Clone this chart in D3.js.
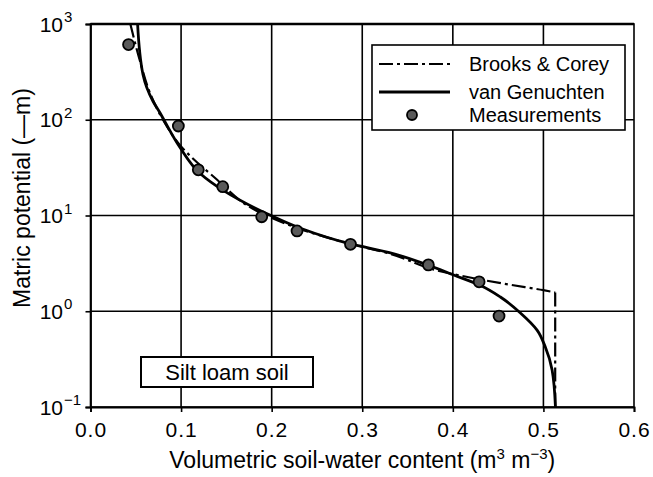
<!DOCTYPE html>
<html><head><meta charset="utf-8">
<script src="https://cdn.jsdelivr.net/npm/d3@7"></script>
<style>
body{margin:0;background:#fff}
svg{display:block}
text{font-family:"Liberation Sans",Arial,Helvetica,sans-serif;fill:#000}
</style>
</head><body>
<svg id="c" width="653" height="477"></svg>
<script>
// ---- data ----
const xTicks = [0.0, 0.1, 0.2, 0.3, 0.4, 0.5, 0.6];
const xTickLabels = ["0.0", "0.1", "0.2", "0.3", "0.4", "0.5", "0.6"];
const yTicks = [0.1, 1, 10, 100, 1000];
const yTickExponents = ["−1", "0", "1", "2", "3"];

const measTheta = [0.042, 0.097, 0.119, 0.146, 0.189, 0.228, 0.287, 0.373, 0.429, 0.451];
const measPsi   = [610, 86, 30, 20, 9.7, 6.9, 5.0, 3.05, 2.03, 0.89];

const vgTheta = [0.052, 0.058, 0.069, 0.077, 0.082, 0.099, 0.121, 0.147, 0.198, 0.231, 0.287, 0.330, 0.372, 0.401, 0.430, 0.4525, 0.4746, 0.493, 0.502, 0.5096, 0.5133];
const vgPsi   = [1000, 295, 156, 117, 96, 51, 27.5, 18.2, 10.1, 7.4, 5.05, 4.1, 3.05, 2.39, 1.87, 1.41, 0.96, 0.635, 0.425, 0.243, 0.1];

const bcTheta = [0.044, 0.0547, 0.0657, 0.080, 0.099, 0.136, 0.190, 0.230, 0.287, 0.330, 0.386, 0.430, 0.465, 0.500, 0.513, 0.513];
const bcPsi   = [1000, 408, 190, 100, 54, 25.4, 10.4, 7.3, 5.05, 4.0, 2.62, 2.15, 1.88, 1.66, 1.57, 0.1];

const legendLabels = ["Brooks & Corey", "van Genuchten", "Measurements"];

// ---- chart ----
const svg = d3.select("#c");
const L = 90.5, R = 634, T = 24, B = 407;
const x = d3.scaleLinear().domain([0, 0.6]).range([L, R]);
const y = d3.scaleLog().domain([0.1, 1000]).range([B, T]);

// grid
const g = svg.append("g");
g.selectAll("line.vx").data(xTicks.slice(1, -1)).enter().append("line")
  .attr("x1", d => x(d)).attr("x2", d => x(d)).attr("y1", T).attr("y2", B)
  .attr("stroke", "#000").attr("stroke-width", 1.6);
g.selectAll("line.hy").data(yTicks.slice(1, -1)).enter().append("line")
  .attr("x1", L).attr("x2", R).attr("y1", d => y(d)).attr("y2", d => y(d))
  .attr("stroke", "#000").attr("stroke-width", 1.4);

// frame
svg.append("rect").attr("x", L).attr("y", T).attr("width", R - L).attr("height", B - T)
  .attr("fill", "none").attr("stroke", "#000").attr("stroke-width", 1.6);
svg.append("line").attr("x1", L).attr("x2", R).attr("y1", T).attr("y2", T)
  .attr("stroke", "#000").attr("stroke-width", 2.4);

// x axis
const xAxis = d3.axisBottom(x).tickValues(xTicks).tickFormat((d, i) => xTickLabels[i]).tickSize(5).tickPadding(10);
const xa = svg.append("g").attr("transform", `translate(0,${B})`).call(xAxis);
xa.select(".domain").attr("stroke", "#000").attr("stroke-width", 1.8);
xa.selectAll(".tick line").attr("stroke", "#000").attr("stroke-width", 1.6);
xa.selectAll(".tick text").attr("font-size", 21).attr("font-family", "Liberation Sans, Arial, sans-serif")
  .attr("letter-spacing", "1px").attr("fill", "#000");

// y axis
const yAxis = d3.axisLeft(y).tickValues(yTicks).tickFormat("").tickSize(5);
const ya = svg.append("g").attr("transform", `translate(${L},0)`).call(yAxis);
ya.select(".domain").attr("stroke", "#000").attr("stroke-width", 1.8);
ya.selectAll(".tick line").attr("stroke", "#000").attr("stroke-width", 1.6);
const ylab = svg.append("g");
yTicks.forEach((v, i) => {
  ylab.append("text").attr("x", 63).attr("y", y(v) + 7.5).attr("text-anchor", "end")
    .attr("font-size", 21).text("10");
  ylab.append("text").attr("x", 64).attr("y", y(v) - 2).attr("text-anchor", "start")
    .attr("font-size", 15).text(yTickExponents[i]);
});

// axis titles
const xt = svg.append("text").attr("x", (L + R) / 2).attr("y", 468).attr("text-anchor", "middle")
  .attr("font-size", 23);
xt.append("tspan").text("Volumetric soil-water content (m");
xt.append("tspan").attr("font-size", 15).attr("dy", -9).text("3");
xt.append("tspan").attr("dy", 9).text(" m");
xt.append("tspan").attr("font-size", 15).attr("dy", -9).text("−3");
xt.append("tspan").attr("dy", 9).text(")");

svg.append("text").attr("transform", "translate(30,198) rotate(-90)").attr("text-anchor", "middle")
  .attr("font-size", 23).text("Matric potential (—m)");

// curves
const vgData = vgTheta.map((t, i) => [t, vgPsi[i]]);
const bcData = bcTheta.map((t, i) => [t, bcPsi[i]]);
const line = d3.line().x(d => x(d[0])).y(d => y(d[1])).curve(d3.curveMonotoneY);
svg.append("clipPath").attr("id", "pc").append("rect")
  .attr("x", L).attr("y", T).attr("width", R - L).attr("height", B - T);
svg.append("path").datum(bcData.slice(0, -1)).attr("d", line).attr("clip-path", "url(#pc)")
  .attr("fill", "none").attr("stroke", "#000").attr("stroke-width", 2.2).attr("stroke-dasharray", "14,4,3,4");
svg.append("path").datum(bcData.slice(-2)).attr("d", d3.line().x(d => x(d[0])).y(d => y(d[1])))
  .attr("fill", "none").attr("stroke", "#000").attr("stroke-width", 2.2).attr("stroke-dasharray", "14,4,3,4");
svg.append("path").datum(vgData).attr("d", line).attr("clip-path", "url(#pc)")
  .attr("fill", "none").attr("stroke", "#000").attr("stroke-width", 2.8);

// measurements
svg.selectAll("circle.m").data(measTheta).enter().append("circle")
  .attr("cx", d => x(d)).attr("cy", (d, i) => y(measPsi[i])).attr("r", 5.5)
  .attr("fill", "#5a5a5a").attr("stroke", "#000").attr("stroke-width", 1.8);

// legend
const lg = svg.append("g");
lg.append("rect").attr("x", 372).attr("y", 45).attr("width", 253).attr("height", 85)
  .attr("fill", "#fff").attr("stroke", "#000").attr("stroke-width", 1.6);
const ly = [64, 92, 115];
lg.append("line").attr("x1", 379).attr("x2", 450).attr("y1", ly[0]).attr("y2", ly[0])
  .attr("stroke", "#000").attr("stroke-width", 2.2).attr("stroke-dasharray", "14,4,3,4");
lg.append("line").attr("x1", 379).attr("x2", 450).attr("y1", ly[1]).attr("y2", ly[1])
  .attr("stroke", "#000").attr("stroke-width", 2.8);
lg.append("circle").attr("cx", 412).attr("cy", ly[2]).attr("r", 5)
  .attr("fill", "#5a5a5a").attr("stroke", "#000").attr("stroke-width", 1.8);
legendLabels.forEach((s, i) => {
  lg.append("text").attr("x", 469).attr("y", ly[i] + 7).attr("font-size", 20).text(s);
});

// soil label
svg.append("rect").attr("x", 141).attr("y", 357).attr("width", 172).attr("height", 30)
  .attr("fill", "#fff").attr("stroke", "#000").attr("stroke-width", 2);
svg.append("text").attr("x", 227).attr("y", 380).attr("text-anchor", "middle")
  .attr("font-size", 22).text("Silt loam soil");
</script>
</body></html>
